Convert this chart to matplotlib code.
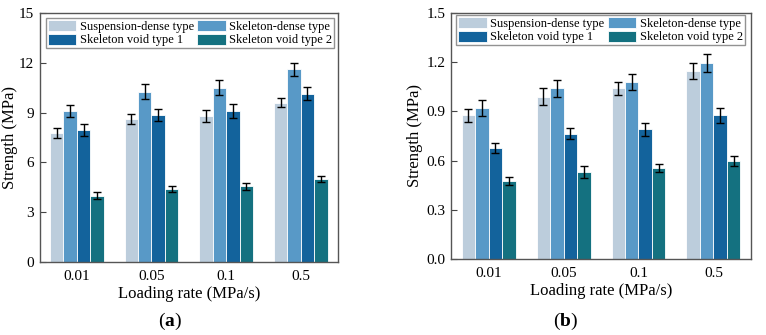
import numpy as np
import matplotlib
matplotlib.use("Agg")
import matplotlib.pyplot as plt

plt.rcParams['font.family'] = ['Liberation Serif', 'DejaVu Serif']
plt.rcParams['mathtext.fontset'] = 'custom'
plt.rcParams['mathtext.rm'] = 'Liberation Serif'
plt.rcParams['mathtext.bf'] = 'Liberation Serif:bold'

rates = ["0.01", "0.05", "0.1", "0.5"]
series = ["Suspension-dense type", "Skeleton-dense type",
          "Skeleton void type 1", "Skeleton void type 2"]
colors = ["#bccddc", "#5899c7", "#13639c", "#147180"]

# panel (a)
susp_a = [7.75, 8.6, 8.8, 9.6]
sdense_a = [9.1, 10.25, 10.5, 11.6]
void1_a = [7.95, 8.85, 9.1, 10.15]
void2_a = [4.0, 4.4, 4.55, 5.0]
susp_a_err = [0.3, 0.3, 0.35, 0.25]
sdense_a_err = [0.35, 0.45, 0.45, 0.4]
void1_a_err = [0.35, 0.35, 0.4, 0.4]
void2_a_err = [0.2, 0.2, 0.2, 0.2]

# panel (b)
susp_b = [0.875, 0.99, 1.04, 1.145]
sdense_b = [0.92, 1.04, 1.08, 1.195]
void1_b = [0.675, 0.765, 0.79, 0.875]
void2_b = [0.475, 0.53, 0.555, 0.60]
susp_b_err = [0.04, 0.05, 0.04, 0.05]
sdense_b_err = [0.05, 0.05, 0.05, 0.055]
void1_b_err = [0.03, 0.035, 0.04, 0.045]
void2_b_err = [0.025, 0.035, 0.025, 0.03]

fig = plt.figure(figsize=(7.66, 3.35), dpi=100)
ax_a = fig.add_axes([0.0516, 0.2179, 0.3897, 0.7433])
ax_b = fig.add_axes([0.5888, 0.2269, 0.3916, 0.7343])


def draw_panel(ax, vals, errs, ymax, step, fmt, legend_pos, ylab_x):
    x = np.arange(len(rates))
    width = 0.18
    offsets = [-1.5, -0.5, 0.5, 1.5]
    bars = []
    for i in range(4):
        b = ax.bar(x + offsets[i] * width, vals[i], width, color=colors[i],
                   edgecolor="white", linewidth=0.6, label=series[i], zorder=2)
        bars.append(b)
        ax.errorbar(x + offsets[i] * width, vals[i], yerr=errs[i], fmt="none",
                    ecolor="black", elinewidth=1.0, capsize=3, capthick=1.0, zorder=3)
    ax.set_xlim(-0.5, 3.5)
    ax.set_ylim(0, ymax)
    ticks = np.arange(0, ymax + step / 2, step)
    ax.set_yticks(ticks)
    ax.set_yticklabels([fmt.format(v) for v in ticks])
    ax.set_xticks(x)
    ax.set_xticklabels(rates)
    ax.tick_params(axis="x", direction="in", length=4, labelsize=11, color="#444444", pad=6)
    ax.tick_params(axis="y", direction="in", length=4, labelsize=11, color="#444444", pad=4)
    for s in ax.spines.values():
        s.set_color("#555555")
        s.set_linewidth(1.0)
        s.set_zorder(4)
    ax.set_xlabel("Loading rate (MPa/s)", fontsize=12, labelpad=2)
    ax.set_ylabel("Strength (MPa)", fontsize=12)
    ax.yaxis.set_label_coords(ylab_x, 0.5)
    # row-wise legend order: 0 1 / 2 3
    order = [0, 2, 1, 3]
    leg = ax.legend([bars[i] for i in order], [series[i] for i in order],
                    ncol=2, loc="upper left", bbox_to_anchor=legend_pos,
                    fontsize=9.0, frameon=True, fancybox=False,
                    edgecolor="#777777", handlelength=2.3, handleheight=0.95,
                    borderpad=0.15, labelspacing=0.1, columnspacing=0.3,
                    handletextpad=0.25, borderaxespad=0)
    leg.get_frame().set_linewidth(1.0)


draw_panel(ax_a, [susp_a, sdense_a, void1_a, void2_a],
           [susp_a_err, sdense_a_err, void1_a_err, void2_a_err],
           15, 3, "{:.0f}", (0.021, 0.98), -0.072)
draw_panel(ax_b, [susp_b, sdense_b, void1_b, void2_b],
           [susp_b_err, sdense_b_err, void1_b_err, void2_b_err],
           1.5, 0.3, "{:.1f}", (0.017, 0.992), -0.093)

fig.text(0.222, 0.039, r"($\mathbf{a}$)", ha="center", va="center", fontsize=14)
fig.text(0.738, 0.039, r"($\mathbf{b}$)", ha="center", va="center", fontsize=14)

fig.savefig("out.png", dpi=100)
